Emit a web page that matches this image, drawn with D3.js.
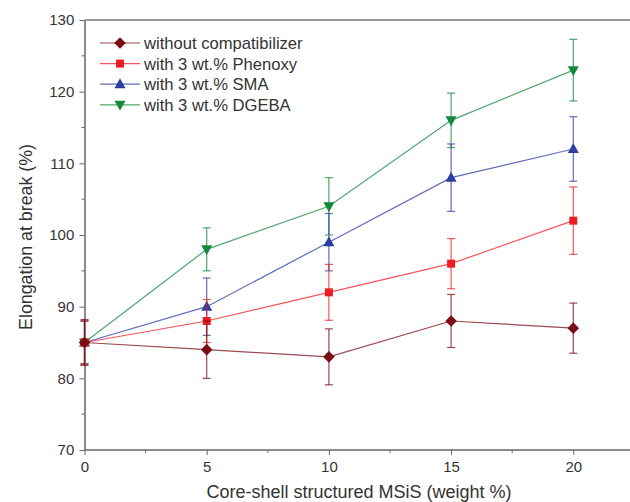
<!DOCTYPE html>
<html>
<head>
<meta charset="utf-8">
<script src="https://cdn.jsdelivr.net/npm/d3@7"></script>
<style>
	body { margin: 0; background: #fff; }
	text { font-family: "Liberation Sans", Arial, sans-serif; fill: #333; }
	.axis path, .axis line { stroke: #666; }
</style>
</head>
<body>
<svg width="630" height="502"></svg>
<script>

	// data
	var loading = [0, 5, 10, 15, 20];
	var seriesNames = ["without compatibilizer", "with 3 wt.% Phenoxy", "with 3 wt.% SMA", "with 3 wt.% DGEBA"];
	var noComp = [85, 84, 83, 88, 87];
	var noCompErr = [3.2, 4, 3.9, 3.7, 3.5];
	var phenoxy = [85, 88, 92, 96, 102];
	var phenoxyErr = [3, 3, 3.9, 3.5, 4.7];
	var sma = [85, 90, 99, 108, 112];
	var smaErr = [3, 4, 4, 4.7, 4.5];
	var dgeba = [85, 98, 104, 116, 123];
	var dgebaErr = [3, 3, 4, 3.8, 4.3];
	var xTicks = [0, 5, 10, 15, 20];
	var yTicks = [70, 80, 90, 100, 110, 120, 130];

	var colors = ["#7a0e14", "#ee1c24", "#2b3ea0", "#14883c"];
	var shapes = ["diamond", "square", "up", "down"];
	var values = [noComp, phenoxy, sma, dgeba];
	var errors = [noCompErr, phenoxyErr, smaErr, dgebaErr];

	var svg = d3.select("svg");
	var x = d3.scaleLinear().domain([0, 20]).range([84.5, 573.3]);
	var y = d3.scaleLinear().domain([70, 130]).range([450, 20]);
	var right = 632;

	// frame top
	svg.append("line").attr("x1", x(0)).attr("x2", right).attr("y1", y(130)).attr("y2", y(130))
		.attr("stroke", "#777").attr("stroke-width", 1.5);

	// minor ticks
	var xMinor = [2.5, 7.5, 12.5, 17.5, 22.5];
	svg.selectAll(".xminor").data(xMinor).enter().append("line")
		.attr("x1", d => x(d)).attr("x2", d => x(d)).attr("y1", y(70)).attr("y2", y(70) + 3)
		.attr("stroke", "#666");
	var yMinor = [75, 85, 95, 105, 115, 125];
	svg.selectAll(".yminor").data(yMinor).enter().append("line")
		.attr("x1", x(0) - 3).attr("x2", x(0)).attr("y1", d => y(d)).attr("y2", d => y(d))
		.attr("stroke", "#666");

	var xAxis = svg.append("g").attr("class", "axis").attr("transform", "translate(0," + y(70) + ")")
		.call(d3.axisBottom(x).tickValues(xTicks).tickSize(5).tickSizeOuter(0));
	xAxis.select(".domain").attr("d", "M" + x(0) + ",0H" + right).attr("stroke-width", 1.5);
	xAxis.selectAll("text").attr("font-size", 15).attr("dy", "0.95em");

	var yAxis = svg.append("g").attr("class", "axis").attr("transform", "translate(" + x(0) + ",0)")
		.call(d3.axisLeft(y).tickValues(yTicks).tickSize(5).tickSizeOuter(0));
	yAxis.select(".domain").attr("stroke-width", 1.5);
	yAxis.selectAll("text").attr("font-size", 15).attr("dx", "-0.15em");

	svg.append("text").attr("x", 359).attr("y", 498).attr("text-anchor", "middle")
		.attr("font-size", 18).text("Core-shell structured MSiS (weight %)");
	svg.append("text").attr("transform", "translate(32,237) rotate(-90)").attr("text-anchor", "middle")
		.attr("font-size", 17.8).text("Elongation at break (%)");

	function marker(g, i) {
		var s = shapes[i], p;
		if (s === "up") p = [[0, -6], [5.5, 4], [-5.5, 4]];
		else if (s === "down") p = [[0, 6], [5.5, -4], [-5.5, -4]];
		else if (s === "diamond") p = [[0, -5.8], [5.8, 0], [0, 5.8], [-5.8, 0]];
		else p = [[-4, -4], [4, -4], [4, 4], [-4, 4]];
		g.append("path").attr("d", "M" + p.join("L") + "Z").attr("fill", colors[i]);
	}

	var line = d3.line().x((d, j) => x(loading[j])).y(d => y(d));

	// draw back to front: DGEBA first, no compatibilizer last
	for (var i = 3; i >= 0; i--) {
		var g = svg.append("g");
		var c = colors[i];
		g.append("path").datum(values[i]).attr("d", line).attr("fill", "none")
			.attr("stroke", c).attr("stroke-opacity", 0.75).attr("stroke-width", 1.2);
		loading.forEach(function (xv, j) {
			var v = values[i][j], e = errors[i][j];
			var px = x(xv);
			g.append("line").attr("x1", px).attr("x2", px).attr("y1", y(v - e)).attr("y2", y(v + e))
				.attr("stroke", c).attr("stroke-opacity", 0.75).attr("stroke-width", 1.2);
			[v - e, v + e].forEach(function (cv) {
				g.append("line").attr("x1", px - 4).attr("x2", px + 4).attr("y1", y(cv)).attr("y2", y(cv))
					.attr("stroke", c).attr("stroke-opacity", 0.75).attr("stroke-width", 1.2);
			});
			var m = g.append("g").attr("transform", "translate(" + px + "," + y(v) + ")");
			marker(m, i);
		});
	}

	// legend
	var legend = svg.append("g");
	seriesNames.forEach(function (name, i) {
		var ly = 43 + i * 20.6;
		legend.append("line").attr("x1", 100).attr("x2", 140).attr("y1", ly).attr("y2", ly)
			.attr("stroke", colors[i]).attr("stroke-opacity", 0.75).attr("stroke-width", 1.2);
		var m = legend.append("g").attr("transform", "translate(120," + ly + ")");
		marker(m, i);
		legend.append("text").attr("x", 144).attr("y", ly).attr("dy", "0.36em")
			.attr("font-size", 16.6).text(name);
	});

</script>
</body>
</html>
